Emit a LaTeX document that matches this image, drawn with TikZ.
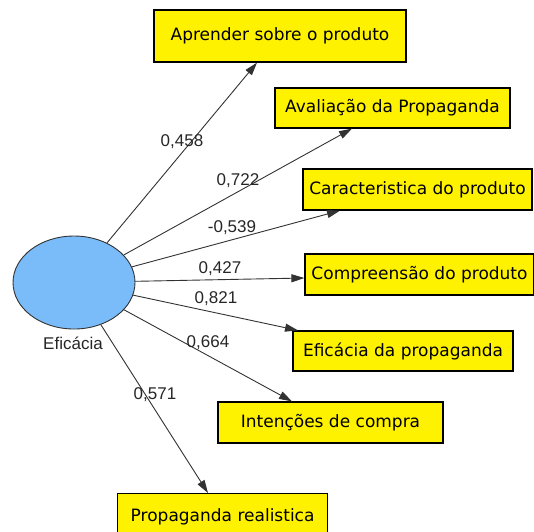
\documentclass[tikz,border=0pt]{standalone}
\usepackage{fontspec}
\setmainfont{DejaVu Sans}
\newfontfamily\numfont{Liberation Sans}
\usetikzlibrary{arrows.meta,shapes.geometric}
\definecolor{ellblue}{RGB}{122,188,250}
\definecolor{edgegray}{RGB}{50,50,50}
\begin{document}
\begin{tikzpicture}[x=1pt,y=-1pt,
  box/.style={draw=black,line width=1.2pt,fill=yellow,inner sep=0pt,
    font=\fontsize{17}{20}\selectfont,text=black},
  latent/.style={ellipse,draw=black!80,line width=0.9pt,fill=ellblue,inner sep=0pt,
    minimum width=122pt,minimum height=93pt},
  lbl/.style={font=\numfont\fontsize{17}{20}\selectfont,text=black!85,inner sep=0pt},
  arr/.style={draw=edgegray,line width=0.9pt,-{Triangle[length=13pt,width=8pt]}}]
\useasboundingbox (0,0) rectangle (534,531);
\node[latent] (ell) at (74,282.5) {};
\node[lbl] (ellname) at (73,343) {Eficácia};
\node[box,minimum width=252pt,minimum height=52pt] (b1) at (280,36) {Aprender sobre o produto};
\node[box,minimum width=235pt,minimum height=40pt] (b2) at (392.5,108) {Avaliação da Propaganda};
\node[box,minimum width=229pt,minimum height=41pt] (b3) at (417.5,189.5) {Caracteristica do produto};
\node[box,minimum width=229pt,minimum height=41pt] (b4) at (419.5,274.5) {Compreensão do produto};
\node[box,minimum width=220pt,minimum height=40pt] (b5) at (403,351) {Eficácia da propaganda};
\node[box,minimum width=225pt,minimum height=41pt] (b6) at (330.5,422.5) {Intenções de compra};
\node[box,minimum width=210pt,minimum height=42pt,anchor=north west,text depth=0pt] (b7) at (117,493) {Propaganda realistica};
\draw[arr] (ell) -- (257,0 |- b1.south);
\draw[arr] (ell) -- (352,0 |- b2.south);
\draw[arr] (ell) -- (340,0 |- b3.south);
\draw[arr] (ell) -- (b4.west |- 0,278);
\draw[arr] (ell) -- (298,0 |- b5.north);
\draw[arr] (ell) -- (292,0 |- b6.north);
\draw[arr] (ell) -- (208,0 |- b7.north);
\node[lbl] (l1) at (182,142) {0,458};
\node[lbl] (l2) at (238,181) {0,722};
\node[lbl] (l3) at (232,228) {-0,539};
\node[lbl] (l4) at (220,269) {0,427};
\node[lbl] (l5) at (216,299) {0,821};
\node[lbl] (l6) at (208,343) {0,664};
\node[lbl] (l7) at (155,395) {0,571};
\end{tikzpicture}
\end{document}
